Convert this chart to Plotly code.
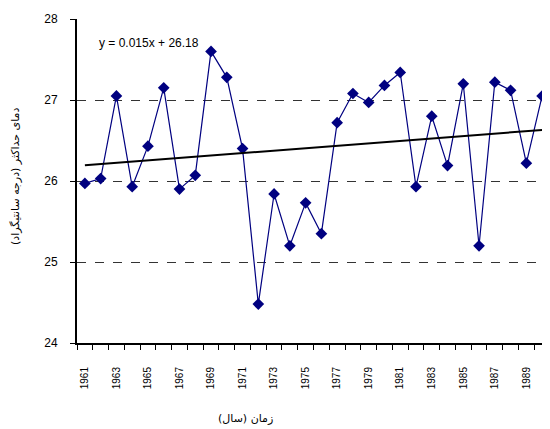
import plotly.graph_objects as go

years = list(range(1961, 1991))
tmax = [25.97, 26.03, 27.05, 25.93, 26.43, 27.15, 25.90, 26.07, 27.60, 27.28,
        26.40, 24.48, 25.84, 25.20, 25.73, 25.35, 26.72, 27.08, 26.97, 27.18,
        27.34, 25.93, 26.80, 26.19, 27.20, 25.20, 27.22, 27.12, 26.22, 27.05]
slope = 0.015
intercept = 26.18
trend = [slope * (i + 1) + intercept for i in range(len(years))]
tick_years = years[::2]
tick_text = [str(y) for y in tick_years]
y_ticks = [24, 25, 26, 27, 28]

fig = go.Figure()
fig.add_trace(go.Scatter(
    x=years, y=tmax, mode="lines+markers",
    line=dict(color="#000080", width=1.2),
    marker=dict(symbol="diamond", size=9, color="#000080"),
    showlegend=False, hoverinfo="x+y", cliponaxis=False))
fig.add_trace(go.Scatter(
    x=years, y=trend, mode="lines",
    line=dict(color="black", width=2),
    showlegend=False, hoverinfo="skip"))

# the page body has an 8px margin, so the figure is offset by (8, 8)
fig.update_layout(
    width=542, height=421,
    margin=dict(l=69, r=0, t=11, b=86),
    plot_bgcolor="white", paper_bgcolor="white",
    font=dict(family="Liberation Sans, Arial, sans-serif", color="black"),
    xaxis=dict(
        range=[1960.5, 1990.5], automargin=False,
        tickvals=tick_years, ticktext=tick_text,
        tickangle=-90, ticks="", ticklabelstandoff=18,
        tickfont=dict(family="Liberation Sans Narrow, Arial Narrow, Liberation Sans", size=10),
        minor=dict(tick0=1960.5, dtick=1, ticks="outside", ticklen=5, tickcolor="black", tickwidth=1, showgrid=False),
        showline=True, linecolor="black", linewidth=2,
        showgrid=False, zeroline=False),
    yaxis=dict(
        range=[24, 28], tickvals=y_ticks, automargin=False,
        ticks="outside", ticklen=5, tickcolor="black",
        ticklabelstandoff=10,
        tickfont=dict(size=12),
        showline=True, linecolor="black", linewidth=2,
        showgrid=True, gridcolor="#333333", gridwidth=1, griddash="dash",
        zeroline=False),
)

pw, ph = 473, 324
fig.add_annotation(
    x=(97 - 77) / pw, y=(343 - 43) / ph, xref="paper", yref="paper",
    text="y = 0.015x + 26.18", showarrow=False,
    xanchor="left", yanchor="middle",
    font=dict(size=12, family="Liberation Sans, Arial, sans-serif"))
fig.add_annotation(
    x=(245 - 77) / pw, y=(343 - 418) / ph, xref="paper", yref="paper",
    xanchor="center", yanchor="middle",
    text="زمان (سال)", showarrow=False,
    font=dict(size=11, family="DejaVu Sans, Noto Sans"))
fig.add_annotation(
    x=(15 - 77) / pw, y=(343 - 176) / ph, xref="paper", yref="paper",
    showarrow=False, xanchor="center", yanchor="middle",
    text="دمای حداکثر (درجه سانتیگراد)", textangle=-90,
    font=dict(size=11, family="DejaVu Sans, Noto Sans"))

fig.write_html("out.html")
